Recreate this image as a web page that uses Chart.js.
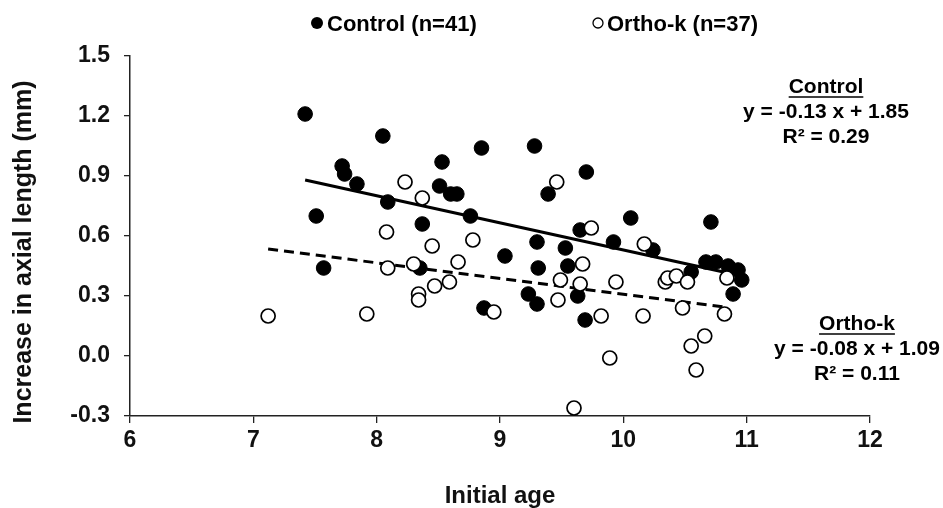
<!DOCTYPE html>
<html>
<head>
<meta charset="utf-8">
<script src="https://cdn.jsdelivr.net/npm/chart.js@4.4.1/dist/chart.umd.min.js"></script>
<style>
  html, body { margin: 0; padding: 0; background: #fff; }
</style>
</head>
<body>
<canvas id="scatter" width="943" height="508"></canvas>
<script>
// initial age (years) vs increase in axial length (mm)
const controlAge = [7.42, 8.05, 7.72, 7.74, 7.84, 7.51, 8.09, 8.37, 7.57, 8.35,
  8.85, 9.28, 8.53, 9.70, 8.51, 8.60, 8.65, 9.39, 8.76, 9.65,
  9.92, 9.30, 9.53, 9.04, 9.31, 9.55, 9.23, 9.30, 9.63, 8.87,
  9.69, 10.06, 10.71, 10.24, 10.55, 10.67, 10.75, 10.85, 10.93, 10.96, 10.89];
const controlGrowth = [1.21, 1.10, 0.95, 0.91, 0.86, 0.70, 0.77, 0.66, 0.44, 0.44,
  1.04, 1.05, 0.97, 0.92, 0.85, 0.81, 0.81, 0.81, 0.70, 0.63,
  0.57, 0.57, 0.54, 0.50, 0.44, 0.45, 0.31, 0.26, 0.30, 0.24,
  0.18, 0.69, 0.67, 0.53, 0.42, 0.47, 0.47, 0.45, 0.43, 0.38, 0.31];

const orthoAge = [7.12, 7.92, 8.23, 8.37, 8.08, 8.45, 8.09, 8.30, 8.47, 8.34,
  8.34, 9.46, 9.74, 8.78, 8.66, 9.67, 9.49, 9.65, 9.94, 8.59,
  8.95, 9.47, 9.82, 9.89, 9.60, 10.17, 10.16, 10.34, 10.36, 10.43,
  10.52, 10.48, 10.82, 10.84, 10.66, 10.55, 10.59];
const orthoGrowth = [0.20, 0.21, 0.87, 0.79, 0.62, 0.55, 0.44, 0.46, 0.35, 0.31,
  0.28, 0.87, 0.64, 0.58, 0.47, 0.46, 0.38, 0.36, 0.37, 0.37,
  0.22, 0.28, 0.20, -0.01, -0.26, 0.56, 0.20, 0.37, 0.39, 0.40,
  0.37, 0.24, 0.21, 0.39, 0.10, 0.05, -0.07];

// trend lines (end points as drawn)
const controlFitAge = [7.42, 10.96];
const controlFitGrowth = [0.88, 0.40];
const orthoFitAge = [7.12, 10.84];
const orthoFitGrowth = [0.535, 0.243];

const xTicks = [6, 7, 8, 9, 10, 11, 12];
const yTicks = [-0.3, 0, 0.3, 0.6, 0.9, 1.2, 1.5];

const legendLabels = ['Control (n=41)', 'Ortho-k (n=37)'];
const controlNote = ['Control', 'y = -0.13 x + 1.85', 'R\u00b2 = 0.29'];
const orthoNote = ['Ortho-k', 'y = -0.08 x + 1.09', 'R\u00b2 = 0.11'];
const yTitle = 'Increase in axial length (mm)';

function pairUp(xs, ys) {
  return xs.map((x, i) => ({ x: x, y: ys[i] }));
}

const family = '"Liberation Sans", Arial, sans-serif';
function font(size) { return 'bold ' + size + 'px ' + family; }

// legend, y title and regression notes, drawn as text on the canvas
const textPlugin = {
  id: 'textPlugin',
  afterDraw(chart) {
    const ctx = chart.ctx;
    const area = chart.chartArea;
    ctx.save();
    ctx.fillStyle = '#000';
    ctx.strokeStyle = '#000';

    // legend
    ctx.font = font(22);
    ctx.textBaseline = 'middle';
    ctx.textAlign = 'left';
    ctx.beginPath();
    ctx.arc(317, 23, 6, 0, Math.PI * 2);
    ctx.fill();
    ctx.fillText(legendLabels[0], 327, 25);
    ctx.beginPath();
    ctx.lineWidth = 1.3;
    ctx.arc(598, 23, 5, 0, Math.PI * 2);
    ctx.stroke();
    ctx.fillText(legendLabels[1], 607, 25);

    // y axis title, a bit below the middle of the axis like the original
    ctx.save();
    ctx.translate(24, (area.top + area.bottom) / 2 + 16);
    ctx.rotate(-Math.PI / 2);
    ctx.textAlign = 'center';
    ctx.font = font(25);
    ctx.fillStyle = '#111';
    ctx.fillText(yTitle, 0, 0);
    ctx.restore();

    // notes
    function note(lines, cx, top) {
      ctx.font = font(21);
      ctx.textAlign = 'center';
      lines.forEach((t, i) => {
        ctx.fillText(t, cx, top + i * 25);
      });
      const w = ctx.measureText(lines[0]).width;
      ctx.lineWidth = 1.5;
      ctx.beginPath();
      ctx.moveTo(cx - w / 2, top + 10);
      ctx.lineTo(cx + w / 2, top + 10);
      ctx.stroke();
    }
    note(controlNote, area.right - 44, 87);
    note(orthoNote, area.right - 13, 324);
    ctx.restore();
  }
};

const ctx = document.getElementById('scatter');
new Chart(ctx, {
  type: 'scatter',
  data: {
    datasets: [
      {
        label: legendLabels[1],
        data: pairUp(orthoAge, orthoGrowth),
        pointRadius: 7,
        pointHoverRadius: 7,
        backgroundColor: '#fff',
        borderColor: '#000',
        borderWidth: 1.7
      },
      {
        label: legendLabels[0],
        data: pairUp(controlAge, controlGrowth),
        pointRadius: 7.3,
        pointHoverRadius: 7.3,
        backgroundColor: '#000',
        borderColor: '#000',
        borderWidth: 1
      },
      {
        label: 'Control fit',
        data: pairUp(controlFitAge, controlFitGrowth),
        showLine: true,
        pointRadius: 0,
        borderColor: '#000',
        borderWidth: 3
      },
      {
        label: 'Ortho-k fit',
        data: pairUp(orthoFitAge, orthoFitGrowth),
        showLine: true,
        pointRadius: 0,
        borderColor: '#000',
        borderWidth: 3,
        borderDash: [10, 6]
      }
    ]
  },
  options: {
    responsive: false,
    animation: false,
    layout: { padding: { top: 56, right: 73, left: 0, bottom: 0 } },
    plugins: {
      legend: { display: false },
      tooltip: { enabled: false }
    },
    scales: {
      x: {
        type: 'linear',
        min: 6,
        max: 12,
        afterBuildTicks: function(scale) {
          scale.ticks = xTicks.map(v => ({ value: v }));
        },
        afterFit: function(scale) { scale.height = 92; },
        grid: { display: true, drawOnChartArea: false, tickLength: 7, color: '#222', lineWidth: 1.3 },
        border: { display: true, color: '#222', width: 1.5 },
        ticks: {
          color: '#111',
          padding: 4,
          font: { family: family, weight: 'bold', size: 23 }
        },
        title: {
          display: true,
          text: 'Initial age',
          color: '#111',
          padding: { top: 0, bottom: -3 },
          font: { family: family, weight: 'bold', size: 24 }
        }
      },
      y: {
        type: 'linear',
        min: -0.3,
        max: 1.5,
        afterBuildTicks: function(scale) {
          scale.ticks = yTicks.map(v => ({ value: v }));
        },
        afterFit: function(scale) { scale.width = 130; },
        grid: { display: true, drawOnChartArea: false, tickLength: 6, color: '#222', lineWidth: 1.3 },
        border: { display: true, color: '#222', width: 1.5 },
        ticks: {
          color: '#111',
          padding: 14,
          font: { family: family, weight: 'bold', size: 23 },
          callback: function(value) { return value.toFixed(1); }
        }
      }
    }
  },
  plugins: [textPlugin]
});
</script>
</body>
</html>
